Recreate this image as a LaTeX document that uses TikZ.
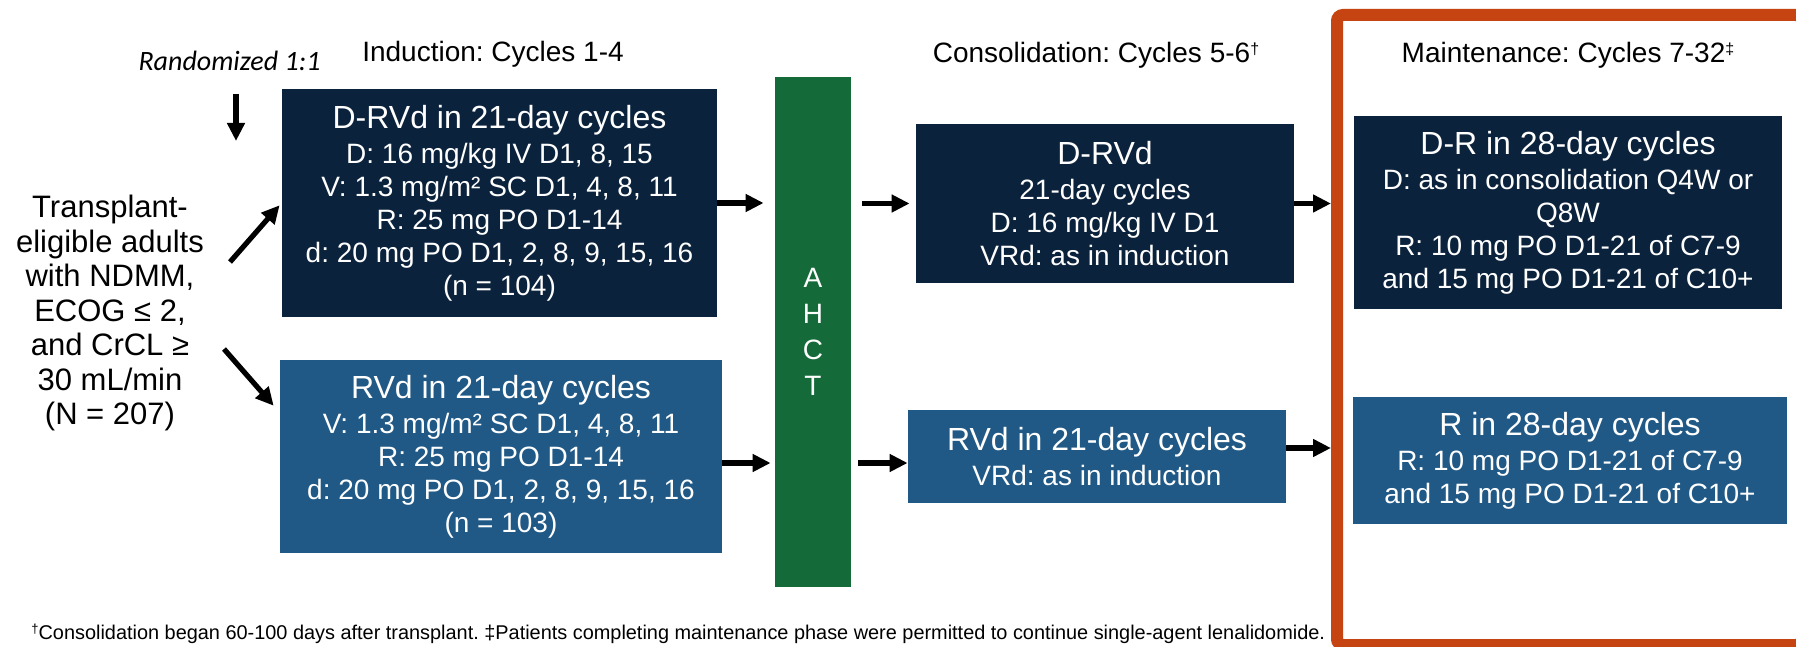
\documentclass[tikz,border=0pt]{standalone}
\usepackage{fontspec}
\setmainfont{Liberation Sans}
\newfontfamily\calibri{Carlito}
\usetikzlibrary{arrows.meta,calc}
\frenchspacing

\definecolor{navy}{RGB}{11,34,60}
\definecolor{steel}{RGB}{32,89,134}
\definecolor{ahctgreen}{RGB}{20,106,57}
\definecolor{frameorange}{RGB}{197,68,17}

\newcommand{\boxhead}{\fontsize{16}{19}\selectfont}
\newcommand{\supmark}[1]{\raisebox{0.55ex}{\fontsize{8}{8}\selectfont #1}}

\begin{document}
\begin{tikzpicture}[x=0.5pt,y=-0.5pt,
  box/.style={rectangle, inner sep=0pt, align=center, text=white,
              font=\fontsize{14}{16.5}\selectfont},
  navybox/.style={box, fill=navy},
  steelbox/.style={box, fill=steel},
  phase/.style={inner sep=0pt, anchor=base, font=\fontsize{14}{16}\selectfont},
  flow/.style={line width=2.6pt, -{Triangle[length=9pt,width=8.5pt]}},
]
\useasboundingbox (0,0) rectangle (1796,647);
\clip (0,0) rectangle (1796,647);
\fill[white] (0,0) rectangle (1796,647);

% maintenance frame
\node[draw=frameorange, line width=6pt, rounded corners=3pt, inner sep=0pt,
      minimum width=232.5pt, minimum height=315pt] (mframe) at (1569.5,330) {};

% phase headings
\node[phase] (tInd)  at (493,62)  {Induction: Cycles 1-4};
\node[phase] (tCons) at (1096,63) {Consolidation: Cycles 5-6\supmark{†}};
\node[phase] (tMain) at (1568,63) {Maintenance: Cycles 7-32\supmark{‡}};

% randomisation and population
\node[inner sep=0pt, anchor=base, font=\calibri\itshape\fontsize{14}{16}\selectfont]
  (rand) at (229.5,71) {Randomized 1:1};
\node[inner sep=0pt, align=center, font=\fontsize{15.5}{17.25}\selectfont]
  (pop) at (110,313) {Transplant-\\eligible adults\\with NDMM,\\ECOG ≤ 2,\\and CrCL ≥\\30 mL/min\\(N = 207)};

% induction
\node[navybox, minimum width=217.5pt, minimum height=114pt] (ind1) at (499.5,203)
  {{\boxhead D-RVd in 21-day cycles}\\[1pt]
   D: 16 mg/kg IV D1, 8, 15\\
   V: 1.3 mg/m² SC D1, 4, 8, 11\\
   R: 25 mg PO D1-14\\
   d: 20 mg PO D1, 2, 8, 9, 15, 16\\
   (n = 104)};
\node[steelbox, minimum width=221pt, minimum height=96.5pt] (ind2) at (501,456.5)
  {{\boxhead RVd in 21-day cycles}\\[1pt]
   V: 1.3 mg/m² SC D1, 4, 8, 11\\
   R: 25 mg PO D1-14\\
   d: 20 mg PO D1, 2, 8, 9, 15, 16\\
   (n = 103)};

% transplant
\node[fill=ahctgreen, minimum width=38pt, minimum height=255pt, inner sep=0pt,
      text=white, align=center, font=\fontsize{14}{18}\selectfont]
  (ahct) at (813,332) {A\\H\\C\\T};

% consolidation
\node[navybox, minimum width=189pt, minimum height=79.5pt] (cons1) at (1105,203.5)
  {{\boxhead D-RVd}\\[1pt]
   21-day cycles\\
   D: 16 mg/kg IV D1\\
   VRd: as in induction};
\node[steelbox, minimum width=189pt, minimum height=46.5pt] (cons2) at (1097,456.5)
  {{\boxhead RVd in 21-day cycles}\\[1pt]
   VRd: as in induction};

% maintenance
\node[navybox, minimum width=214pt, minimum height=96.5pt] (main1) at (1568,212.5)
  {{\boxhead D-R in 28-day cycles}\\[1pt]
   D: as in consolidation Q4W or\\
   Q8W\\
   R: 10 mg PO D1-21 of C7-9\\
   and 15 mg PO D1-21 of C10+};
\node[steelbox, minimum width=217pt, minimum height=63.5pt] (main2) at (1570,460.5)
  {{\boxhead R in 28-day cycles}\\[1pt]
   R: 10 mg PO D1-21 of C7-9\\
   and 15 mg PO D1-21 of C10+};

% footnote
\node[anchor=base west, inner sep=0pt, font=\fontsize{9.95}{12}\selectfont]
  (note) at (31,639) {\raisebox{0.5ex}{\fontsize{6.5}{6.5}\selectfont †}Consolidation began 60-100 days after transplant. ‡Patients completing maintenance phase were permitted to continue single-agent lenalidomide.};

% connectors
\coordinate (randTip) at (236,141);
\draw[flow, shorten <=11pt] (rand.south -| randTip) -- (randTip);
\coordinate (up0) at (230,262);
\draw[flow, shorten >=1.5pt] (up0) -- (ind1.west);
\coordinate (dn0) at (224,349);
\draw[flow, shorten >=4.5pt] (dn0) -- ([yshift=22pt]ind2.west);

\draw[flow, shorten >=5.5pt] (ind1.east) -- (ind1.east -| ahct.west);
\draw[flow, shorten <=5.5pt, shorten >=3pt] (ahct.east |- cons1.west) -- (cons1.west);
\draw[flow, shorten >=2pt] ([yshift=-3.25pt]ind2.east) -- ([yshift=-3.25pt]ind2.east -| ahct.west);
\draw[flow, shorten <=3.5pt] ([yshift=-3.25pt]ind2.east -| ahct.east) -- ([yshift=-3.25pt]cons2.west);

\draw[flow] (cons1.east) -- (cons1.east -| mframe.west);
\draw[flow] ([yshift=4.25pt]cons2.east) -- ([yshift=4.25pt]cons2.east -| mframe.west);
\end{tikzpicture}
\end{document}
